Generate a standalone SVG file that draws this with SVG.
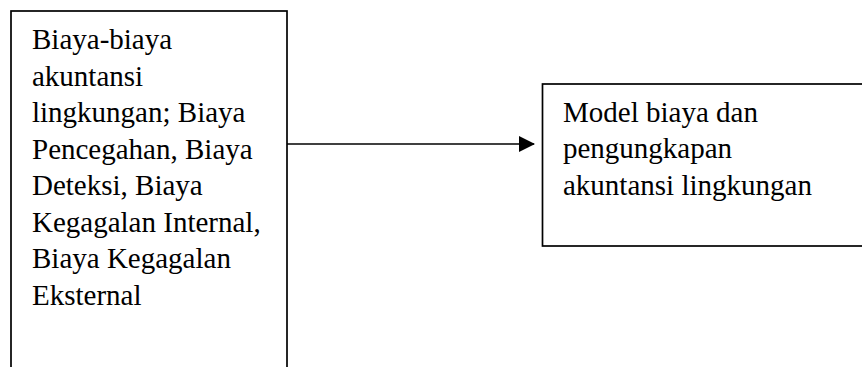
<svg xmlns="http://www.w3.org/2000/svg" width="862" height="367" viewBox="0 0 862 367">
<defs>
<style>
.box{fill:#fff;stroke:#000;stroke-width:1.7}
.t{font-family:"Liberation Serif","Times New Roman",serif;font-size:29px;fill:#000}
.conn{stroke:#000;stroke-width:1.4;fill:none}
</style>
<marker id="arr" markerUnits="userSpaceOnUse" markerWidth="16" markerHeight="16" refX="15" refY="8" orient="auto">
<path d="M0,0 L16,8 L0,16 Z" fill="#000"/>
</marker>
</defs>
<rect width="862" height="367" fill="#fff"/>
<g id="node-left">
<rect class="box" x="11" y="11" width="276" height="380"/>
<text class="t">
<tspan x="32" y="49">Biaya-biaya</tspan>
<tspan x="32" y="85.5">akuntansi</tspan>
<tspan x="32" y="122">lingkungan; Biaya</tspan>
<tspan x="32" y="158.5">Pencegahan, Biaya</tspan>
<tspan x="32" y="195">Deteksi, Biaya</tspan>
<tspan x="32" y="231.5">Kegagalan Internal,</tspan>
<tspan x="32" y="268">Biaya Kegagalan</tspan>
<tspan x="32" y="304.5">Eksternal</tspan>
</text>
</g>
<g id="node-right">
<rect class="box" x="542.5" y="84" width="340" height="162"/>
<text class="t">
<tspan x="563" y="121.5">Model biaya dan</tspan>
<tspan x="563" y="158">pengungkapan</tspan>
<tspan x="563" y="194.5">akuntansi lingkungan</tspan>
</text>
</g>
<g id="connectors">
<line class="conn" x1="287" y1="144" x2="534" y2="144" marker-end="url(#arr)"/>
</g>
</svg>
